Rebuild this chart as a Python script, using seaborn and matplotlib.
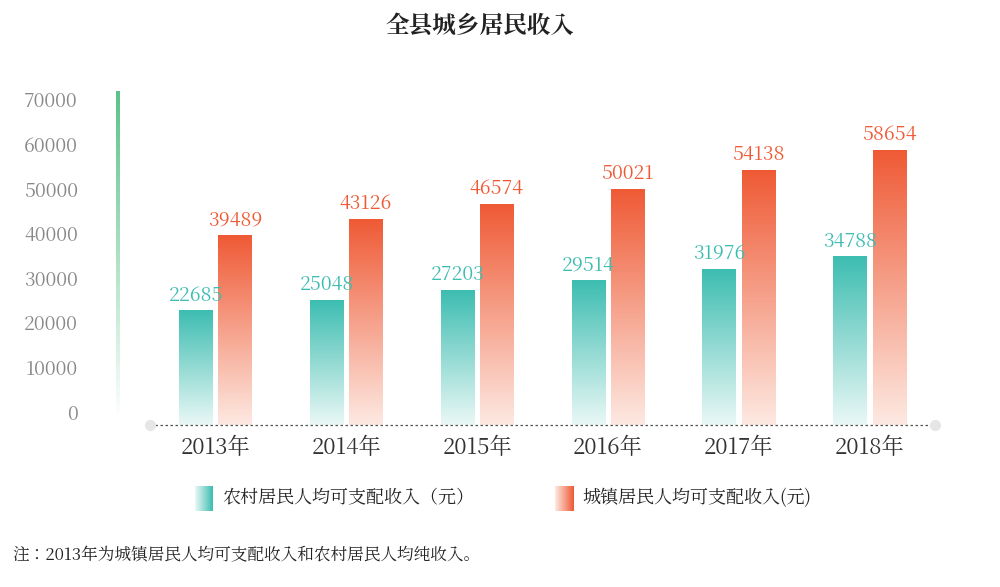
import numpy as np
import pandas as pd
import matplotlib
matplotlib.use("Agg")
import matplotlib.pyplot as plt
from matplotlib import font_manager
from matplotlib.colors import LinearSegmentedColormap
import seaborn as sns

cjk = [f.name for f in font_manager.fontManager.ttflist if "CJK" in f.name]
cjk_name = "Noto Sans CJK SC" if "Noto Sans CJK SC" in cjk else (cjk[0] if cjk else "DejaVu Sans")
plt.rcParams["font.family"] = [cjk_name, "DejaVu Sans"]

years = ["2013年", "2014年", "2015年", "2016年", "2017年", "2018年"]
rural = [22685, 25048, 27203, 29514, 31976, 34788]
urban = [39489, 43126, 46574, 50021, 54138, 58654]
series = ["农村居民人均可支配收入（元）", "城镇居民人均可支配收入(元)"]
yticks = [0, 10000, 20000, 30000, 40000, 50000, 60000, 70000]

teal = "#3dbdb1"
orange = "#ef5a35"
cmaps = {
    series[0]: LinearSegmentedColormap.from_list("t", ["#eaf8f6", teal]),
    series[1]: LinearSegmentedColormap.from_list("o", ["#fde9e2", orange]),
}
text_col = {series[0]: teal, series[1]: orange}

df = pd.DataFrame({
    "year": years * 2,
    "value": rural + urban,
    "kind": [series[0]] * 6 + [series[1]] * 6,
})

fig = plt.figure(figsize=(10, 5.87), dpi=100)
ax = fig.add_axes([0.15, 0.276, 0.785, 0.569])
sns.barplot(data=df, x="year", y="value", hue="kind", hue_order=series,
            width=0.6, gap=0.15, ax=ax, legend=False)

grad = np.linspace(0, 1, 256).reshape(-1, 1)
for cont, name in zip(ax.containers, series):
    for bar, v in zip(cont, df[df.kind == name].value):
        x0, w, h = bar.get_x(), bar.get_width(), bar.get_height()
        bar.set_visible(False)
        ax.imshow(grad, cmap=cmaps[name], origin="lower", aspect="auto",
                  extent=[x0, x0 + w, -2900, h], zorder=2)
        ax.text(x0 + w / 2, h + 1200, str(v), ha="center", va="bottom",
                color=text_col[name], fontsize=14)
ax.set_xlim(-0.5, 5.5)
ax.set_ylim(-2900, 72000)

for s in ax.spines.values():
    s.set_visible(False)
ax.plot([-0.5, 5.5], [-2900, -2900], color="#555555", ls=(0, (2, 2)), lw=0.9,
        zorder=4, clip_on=False)
ax.plot([-0.5, 5.5], [-2900, -2900], "o", color="#e6e6e6", ms=7, clip_on=False, zorder=5)
ax.set_yticks(yticks)
ax.set_yticklabels([str(t) for t in yticks])
ax.tick_params(axis="y", length=0, labelsize=14, labelcolor="#888888", pad=52)
for lab in ax.get_yticklabels():
    lab.set_horizontalalignment("right")
ax.tick_params(axis="x", length=0, labelsize=16, labelcolor="#333333", pad=8)
ax.set_xlabel("")
ax.set_ylabel("")

# green vertical accent line
lax = fig.add_axes([0.116, 0.285, 0.004, 0.56])
lax.imshow(np.linspace(0, 1, 256).reshape(-1, 1),
           cmap=LinearSegmentedColormap.from_list("g", ["#ffffff", "#5cc28a"]),
           origin="lower", aspect="auto")
lax.axis("off")

fig.text(0.48, 0.955, "全县城乡居民收入", ha="center", va="center",
         fontsize=17, fontweight="bold", color="#222222")

# legend
for lx, name in [(0.195, series[0]), (0.555, series[1])]:
    kax = fig.add_axes([lx, 0.13, 0.018, 0.042])
    kax.imshow(np.linspace(0, 1, 50).reshape(1, -1), cmap=cmaps[name], aspect="auto")
    kax.axis("off")
    fig.text(lx + 0.027, 0.151, name, ha="left", va="center", fontsize=13, color="#222222")

fig.text(0.012, 0.055, "注：2013年为城镇居民人均可支配收入和农村居民人均纯收入。",
         ha="left", va="center", fontsize=12, color="#222222")

fig.savefig("out.png", dpi=100)
